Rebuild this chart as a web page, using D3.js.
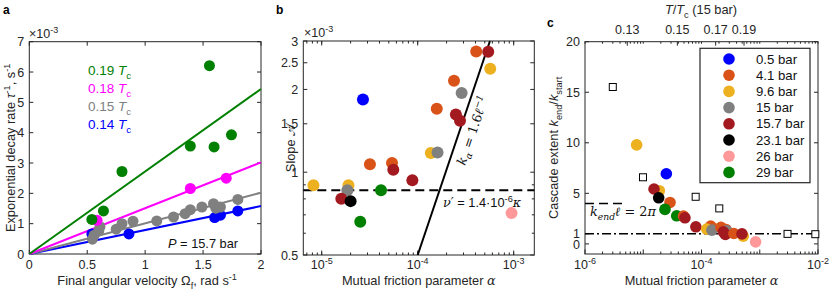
<!DOCTYPE html>
<html><head><meta charset="utf-8">
<script src="https://cdn.jsdelivr.net/npm/d3@7/dist/d3.min.js"></script>
<style>
body{margin:0;background:#fff;}
svg{font-family:"Liberation Sans",Arial,sans-serif;}
</style></head>
<body><svg id="c" width="830" height="295"></svg>
<script>
// ---------- DATA ----------
// Panel a: decay rate (x1e-3 s^-1) vs final angular velocity
const aXTicks = [0, 0.5, 1, 1.5, 2];
const aYTicks = [0, 1, 2, 3, 4, 5, 6, 7];
const aSeriesNames = ["0.14", "0.15", "0.18", "0.19"];
const aSeriesColors = ["#0000FF", "#808080", "#FF00FF", "#008000"];
const aSlopes = [0.79, 1.01, 1.51, 2.72];
const aBlueX = [0.54, 0.86, 1.60, 1.65, 1.80];
const aBlueY = [0.66, 0.66, 1.20, 1.28, 1.42];
const aGrayX = [0.545, 0.56, 0.60, 0.61, 0.75, 0.80, 0.895, 1.10, 1.245, 1.345, 1.39, 1.49, 1.59, 1.61, 1.65, 1.80];
const aGrayY = [0.49, 0.62, 0.76, 0.90, 0.82, 1.00, 1.08, 1.09, 1.22, 1.33, 1.46, 1.55, 1.66, 1.51, 1.55, 1.80];
const aMagX = [0.585, 1.39, 1.70];
const aMagY = [1.11, 2.16, 2.50];
const aGreenX = [0.54, 0.64, 0.80, 1.39, 1.555, 1.595, 1.745];
const aGreenY = [1.14, 1.42, 2.72, 3.56, 6.21, 3.53, 3.93];

// Pressures (legend of panel c, shared colours for b and c)
const pressures = ["0.5 bar", "4.1 bar", "9.6 bar", "15 bar", "15.7 bar", "23.1 bar", "26 bar", "29 bar"];
const pColors = ["#0000FF", "#D95319", "#EDB120", "#808080", "#A21A1F", "#000000", "#FF9999", "#008000"];

// Panel b: slope (x1e-3) vs mutual friction alpha; group = index into pressures
const bAlpha = [2.69e-5, 4.07e-4, 5.43e-4, 5.7e-4, 2.39e-4, 2.87e-4, 1.58e-4, 2.5e-4, 2.76e-4, 1.37e-4, 1.61e-4, 3.18e-5, 5.4e-5, 5.57e-5, 8.8e-5, 8.2e-6, 1.9e-5, 1.85e-5, 4.15e-5, 1.6e-5, 2.0e-5, 2.52e-5, 9.5e-4];
const bSlope = [1.84, 2.75, 2.74, 2.38, 2.15, 1.94, 1.70, 1.62, 1.54, 1.175, 1.18, 1.07, 1.08, 1.02, 0.935, 0.896, 0.896, 0.86, 0.86, 0.80, 0.785, 0.66, 0.71];
const bGroup = [0, 1, 4, 2, 1, 3, 1, 4, 4, 2, 3, 1, 1, 4, 4, 2, 2, 3, 7, 4, 5, 7, 6];
const bYTicks = [0.5, 1, 1.5, 2, 2.5, 3];
const bXTicks = [1e-5, 1e-4, 1e-3];
const bDashY = 0.86;             // nu' = 1.4e-6 kappa
const bFitAlpha = [1.0e-4, 5.66e-4]; // k_alpha = 1.6/l
const bFitSlope = [0.5, 3.0];

// Panel c: cascade extent vs alpha
const cAlpha = [7.7e-6, 2.49e-5, 1.89e-5, 1.53e-5, 1.84e-5, 2.88e-5, 2.36e-5, 3.75e-5, 4.9e-5, 5.2e-5, 8.0e-5, 1.44e-4, 1.23e-4, 1.51e-4, 2.16e-4, 2.63e-4, 2.71e-4, 2.37e-4, 2.57e-4, 3.6e-4, 5.2e-4, 4.95e-4, 8.5e-4];
const cExtent = [9.79, 6.94, 5.26, 5.43, 4.56, 4.10, 3.41, 2.78, 2.75, 2.58, 1.69, 1.76, 1.46, 1.36, 1.63, 1.43, 1.29, 1.19, 0.93, 1.03, 0.76, 0.99, 0.2];
const cGroup = [2, 0, 2, 4, 5, 1, 7, 7, 1, 4, 4, 1, 2, 3, 1, 1, 3, 4, 4, 1, 2, 4, 6];
const cSqAlpha = [3.0e-6, 9.9e-6, 7.94e-5, 2.02e-4, 3.0e-3, 9.0e-3];
const cSqExtent = [15.52, 6.59, 4.66, 3.51, 0.99, 0.96];
const cYTicks = [0, 1, 5, 10, 15, 20];
const cXTicks = [1e-6, 1e-4, 1e-2];
const cTopT = ["0.13", "0.15", "0.17", "0.19"];
const cTopAlpha = [5.32e-6, 3.85e-5, 1.75e-4, 5.37e-4];
const cOneLine = 1;
const cKendLine = 4;
const cKendLineEnd = 5.2e-6;

// ---------- HELPERS ----------
const svg = d3.select("#c");
const FS = 12.5;   // tick labels
const LS = 12.8;   // axis labels

function rich(g, parts, attrs) {
  const t = g.append("text");
  Object.entries(attrs || {}).forEach(([k, v]) => t.attr(k, v));
  let shift = 0;
  parts.forEach(p => {
    const s = p[0], st = p[1] || "";
    const ts = t.append("tspan").text(s);
    let target = 0;
    if (st.includes("sup")) { target = -5; ts.attr("font-size", "0.72em"); }
    else if (st.includes("sub")) { target = 3.5; ts.attr("font-size", "0.72em"); }
    if (target - shift !== 0) ts.attr("dy", target - shift);
    shift = target;
    if (st.includes("i")) ts.attr("font-style", "italic");
    if (st.includes("serif")) ts.attr("font-family", "DejaVu Serif, serif");
  });
  return t;
}

function frame(g, L, R, T, B) {
  g.append("rect").attr("x", L).attr("y", T).attr("width", R - L).attr("height", B - T)
    .attr("fill", "none").attr("stroke", "#262626").attr("stroke-width", 1);
}
function ticksX(g, x, vals, T, B, len) {
  vals.forEach(v => {
    const px = x(v);
    g.append("line").attr("x1", px).attr("x2", px).attr("y1", B).attr("y2", B - len).attr("stroke", "#262626");
    g.append("line").attr("x1", px).attr("x2", px).attr("y1", T).attr("y2", T + len).attr("stroke", "#262626");
  });
}
function ticksY(g, y, vals, L, R, len) {
  vals.forEach(v => {
    const py = y(v);
    g.append("line").attr("y1", py).attr("y2", py).attr("x1", L).attr("x2", L + len).attr("stroke", "#262626");
    g.append("line").attr("y1", py).attr("y2", py).attr("x1", R).attr("x2", R - len).attr("stroke", "#262626");
  });
}
function minorLog(lo, hi) {
  const out = [];
  for (let e = Math.floor(Math.log10(lo)); e <= Math.ceil(Math.log10(hi)); e++) {
    for (let k = 1; k <= 9; k++) { const v = k * Math.pow(10, e); if (v >= lo * 0.999 && v <= hi * 1.001) out.push(v); }
  }
  return out;
}
function pow10Label(g, px, py, v) {
  const e = Math.round(Math.log10(v));
  rich(g, [["10"], [String(e), "sup"]], { x: px, y: py, "text-anchor": "middle", "font-size": FS, fill: "#262626" });
}

// ---------- PANEL A ----------
{
  const L = 29.3, R = 261, T = 41.7, B = 254;
  const g = svg.append("g");
  const x = d3.scaleLinear().domain([0, 2]).range([L, R]);
  const y = d3.scaleLinear().domain([0, 7]).range([B, T]);
  frame(g, L, R, T, B);
  ticksX(g, x, aXTicks, T, B, 4);
  ticksY(g, y, aYTicks, L, R, 4);
  aXTicks.forEach(v => g.append("text").attr("x", x(v)).attr("y", 268.5).attr("text-anchor", "middle").attr("font-size", FS).attr("fill", "#262626").text(v));
  aYTicks.forEach(v => g.append("text").attr("x", L - 5).attr("y", y(v) + 4.5).attr("text-anchor", "end").attr("font-size", FS).attr("fill", "#262626").text(v));
  rich(g, [["×10"], ["-3", "sup"]], { x: 29, y: 38, "font-size": FS, fill: "#262626" });

  const xs = [aBlueX, aGrayX, aMagX, aGreenX], ys = [aBlueY, aGrayY, aMagY, aGreenY];
  aSlopes.forEach((s, i) => {
    g.append("line").attr("x1", x(0)).attr("y1", y(0)).attr("x2", x(2)).attr("y2", y(2 * s))
      .attr("stroke", aSeriesColors[i]).attr("stroke-width", 2);
  });
  xs.forEach((arr, i) => {
    g.selectAll(null).data(arr.map((v, j) => [v, ys[i][j]])).join("circle")
      .attr("cx", d => x(d[0])).attr("cy", d => y(d[1])).attr("r", 5.5).attr("fill", aSeriesColors[i]);
  });
  [3, 2, 1, 0].forEach((i, k) => {
    rich(g, [[aSeriesNames[i] + " "], ["T", "i"], ["c", "sub"]], { x: 88, y: 75 + k * 18, "font-size": 13.5, fill: aSeriesColors[i] });
  });
  rich(g, [["P", "i"], [" = 15.7 bar"]], { x: 168, y: 248, "font-size": LS, fill: "#111" });
  rich(g, [["Final angular velocity Ω"], ["f", "sub"], [", rad s"], ["-1", "sup"]], { x: (L + R) / 2 + 2, y: 285, "text-anchor": "middle", "font-size": LS, fill: "#262626" });
  rich(g, [["Exponential decay rate "], ["τ", "i"], ["-1", "sup"], [", s"], ["-1", "sup"]], { transform: `translate(14.5,${(T + B) / 2}) rotate(-90)`, "text-anchor": "middle", "font-size": LS, fill: "#262626" });
  g.append("text").attr("x", 3).attr("y", 14).attr("font-weight", "bold").attr("font-size", 12).text("a");
}

// ---------- PANEL B ----------
{
  const L = 303.3, R = 534.3, T = 41, B = 255;
  const g = svg.append("g");
  const x = d3.scaleLog().domain([6.43e-6, 1.64e-3]).range([L, R]);
  const y = d3.scaleLog().domain([0.5, 3]).range([B, T]);
  frame(g, L, R, T, B);
  ticksX(g, x, minorLog(6.43e-6, 1.64e-3), T, B, 2.5);
  ticksX(g, x, bXTicks, T, B, 4.5);
  ticksY(g, y, bYTicks, L, R, 4);
  ticksY(g, y, [0.6, 0.7, 0.8, 0.9], L, R, 2.5);
  bXTicks.forEach(v => pow10Label(g, x(v), 268.5, v));
  bYTicks.forEach(v => g.append("text").attr("x", L - 5).attr("y", y(v) + 4.5).attr("text-anchor", "end").attr("font-size", FS).attr("fill", "#262626").text(v));
  rich(g, [["×10"], ["-3", "sup"]], { x: 304, y: 37, "font-size": FS, fill: "#262626" });

  g.append("line").attr("x1", L).attr("x2", R).attr("y1", y(bDashY)).attr("y2", y(bDashY))
    .attr("stroke", "#000").attr("stroke-width", 2).attr("stroke-dasharray", "9,5");
  g.append("line").attr("x1", x(bFitAlpha[0])).attr("y1", y(bFitSlope[0])).attr("x2", x(bFitAlpha[1])).attr("y2", y(bFitSlope[1]))
    .attr("stroke", "#000").attr("stroke-width", 2);

  g.selectAll(null).data(bAlpha.map((a, i) => [a, bSlope[i], bGroup[i]])).join("circle")
    .attr("cx", d => x(d[0])).attr("cy", d => y(d[1])).attr("r", 6).attr("fill", d => pColors[d[2]]);

  rich(g, [["ν", "i serif"], ["′", "serif"], [" = 1.4·10"], ["-6", "sup"], ["κ", "i serif"]], { x: 443, y: 207, "font-size": LS, fill: "#111" });
  rich(g, [["k", "i serif"], ["α", "sub i serif"], [" = 1.6"], ["ℓ", "serif"], ["−1", "sup serif"]],
    { transform: "translate(465,166) rotate(-71)", "font-size": LS, fill: "#111", "font-family": "DejaVu Serif, serif" });

  g.append("text").attr("x", (L + R) / 2).attr("y", 285).attr("text-anchor", "middle").attr("font-size", LS).attr("fill", "#262626")
    .text("Mutual friction parameter ").append("tspan").attr("font-style", "italic").attr("font-family", "DejaVu Serif, serif").text("α");
  rich(g, [["Slope "], ["𝒜", ""]], { transform: `translate(295,${(T + B) / 2}) rotate(-90)`, "text-anchor": "middle", "font-size": LS, fill: "#262626" });
  g.append("text").attr("x", 276).attr("y", 14).attr("font-weight", "bold").attr("font-size", 12).text("b");
}

// ---------- PANEL C ----------
{
  const L = 585, R = 818, T = 41.7, B = 254;
  const g = svg.append("g");
  const x = d3.scaleLog().domain([1e-6, 1e-2]).range([L, R]);
  const y = d3.scaleLinear().domain([-1, 20]).range([B, T]);
  frame(g, L, R, T, B);
  minorLog(1e-6, 1e-2).forEach(v => {
    const len = Math.abs(Math.log10(v) - Math.round(Math.log10(v))) < 1e-9 ? 4.5 : 2.5;
    g.append("line").attr("x1", x(v)).attr("x2", x(v)).attr("y1", B).attr("y2", B - len).attr("stroke", "#262626");
    g.append("line").attr("x1", x(v)).attr("x2", x(v)).attr("y1", T).attr("y2", T + 2).attr("stroke", "#262626");
  });
  cTopAlpha.forEach((a, i) => {
    g.append("line").attr("x1", x(a)).attr("x2", x(a)).attr("y1", T).attr("y2", T + 4).attr("stroke", "#262626");
    g.append("text").attr("x", x(a)).attr("y", 34).attr("text-anchor", "middle").attr("font-size", FS).attr("fill", "#262626").text(cTopT[i]);
  });
  ticksY(g, y, cYTicks, L, R, 4);
  cXTicks.forEach(v => pow10Label(g, x(v), 268.5, v));
  cYTicks.forEach(v => g.append("text").attr("x", L - 5).attr("y", y(v) + (v === 1 ? 3.8 : v === 0 ? 5 : 4.5)).attr("text-anchor", "end").attr("font-size", FS).attr("fill", "#262626").text(v));
  rich(g, [["T", "i"], ["/"], ["T", "i"], ["c", "sub"], [" (15 bar)"]], { x: 701, y: 14, "text-anchor": "middle", "font-size": LS, fill: "#262626" });

  g.append("line").attr("x1", L).attr("x2", R).attr("y1", y(cOneLine)).attr("y2", y(cOneLine))
    .attr("stroke", "#000").attr("stroke-width", 1.6).attr("stroke-dasharray", "9,3,2,3");
  g.append("line").attr("x1", L).attr("x2", x(cKendLineEnd)).attr("y1", y(cKendLine)).attr("y2", y(cKendLine))
    .attr("stroke", "#000").attr("stroke-width", 1.6).attr("stroke-dasharray", "9,5");
  rich(g, [["k", "i serif"], ["end", "sub serif"], ["ℓ", "i serif"], [" = 2"], ["π", "i serif"]], { x: 590, y: 216, "font-size": LS, fill: "#111", "font-family": "DejaVu Serif, serif" });

  g.selectAll(null).data(cAlpha.map((a, i) => [a, cExtent[i], cGroup[i]])).join("circle")
    .attr("cx", d => x(d[0])).attr("cy", d => y(d[1])).attr("r", 5.8).attr("fill", d => pColors[d[2]]);
  g.selectAll(null).data(cSqAlpha.map((a, i) => [a, cSqExtent[i]])).join("rect")
    .attr("x", d => x(d[0]) - 3.5).attr("y", d => y(d[1]) - 3.5).attr("width", 7).attr("height", 7)
    .attr("fill", "#fff").attr("stroke", "#000").attr("stroke-width", 1);

  const lg = g.append("g");
  lg.append("rect").attr("x", 700).attr("y", 48.3).attr("width", 110).attr("height", 134.4).attr("fill", "#fff").attr("stroke", "#262626").attr("stroke-width", 1.2);
  pressures.forEach((p, i) => {
    const yy = 59 + i * 16.2;
    lg.append("circle").attr("cx", 729).attr("cy", yy).attr("r", 5.8).attr("fill", pColors[i]);
    lg.append("text").attr("x", 756).attr("y", yy + 4.6).attr("font-size", 13.2).attr("fill", "#111").text(p);
  });

  g.append("text").attr("x", (L + R) / 2).attr("y", 285).attr("text-anchor", "middle").attr("font-size", LS).attr("fill", "#262626")
    .text("Mutual friction parameter ").append("tspan").attr("font-style", "italic").attr("font-family", "DejaVu Serif, serif").text("α");
  rich(g, [["Cascade extent "], ["k", "i"], ["end", "sub"], ["/"], ["k", "i"], ["start", "sub"]], { transform: `translate(558,${(T + B) / 2}) rotate(-90)`, "text-anchor": "middle", "font-size": LS, fill: "#262626" });
  g.append("text").attr("x", 547).attr("y", 27).attr("font-weight", "bold").attr("font-size", 12).text("c");
}
</script></body></html>
